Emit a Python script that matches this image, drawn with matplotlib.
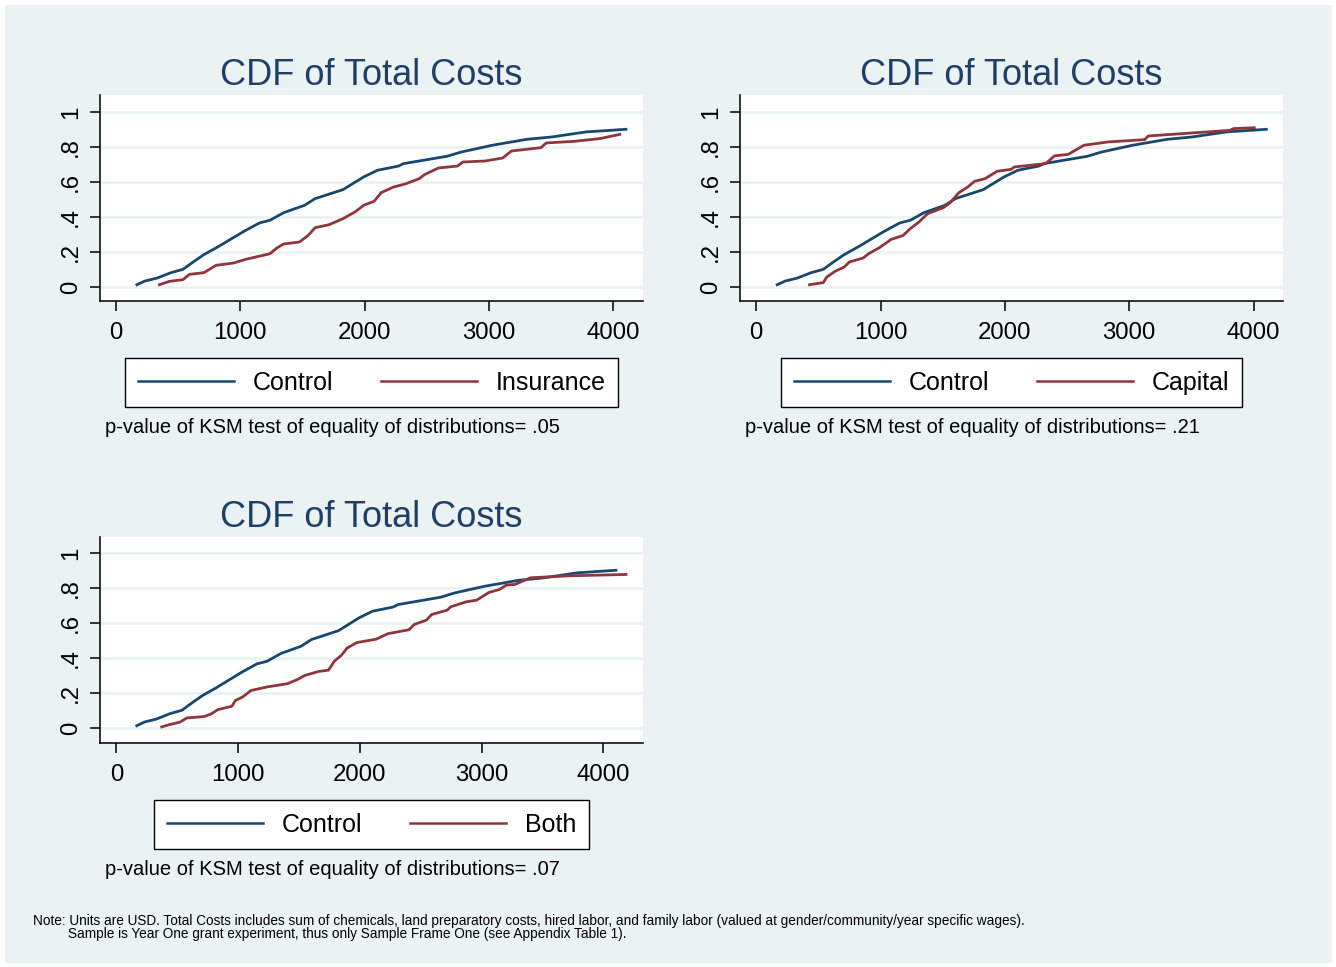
import matplotlib
matplotlib.use("Agg")
import matplotlib.pyplot as plt
from matplotlib.patches import Rectangle

plt.rcParams['font.family'] = ['Liberation Sans', 'DejaVu Sans']

# ---- data ----
control_x = [168, 232, 330, 442, 539, 609, 707, 819, 1029, 1154, 1238, 1350, 1518, 1602,
             1825, 1993, 2104, 2273, 2314, 2664, 2776, 3028, 3307, 3503, 3782, 4103]
control_y = [0.013, 0.034, 0.051, 0.082, 0.101, 0.137, 0.185, 0.229, 0.318, 0.366, 0.381,
             0.425, 0.467, 0.505, 0.556, 0.629, 0.667, 0.691, 0.705, 0.747, 0.771, 0.810,
             0.844, 0.857, 0.886, 0.901]

insurance_x = [349, 428, 539, 590, 707, 805, 945, 1043, 1238, 1294, 1350, 1476, 1546, 1602,
               1714, 1825, 1923, 1993, 2077, 2133, 2232, 2328, 2440, 2482, 2594, 2748, 2790,
               2971, 3111, 3181, 3419, 3461, 3684, 3894, 4053]
insurance_y = [0.013, 0.032, 0.042, 0.072, 0.082, 0.124, 0.137, 0.158, 0.190, 0.223, 0.246,
               0.257, 0.295, 0.339, 0.356, 0.390, 0.429, 0.467, 0.490, 0.539, 0.571, 0.589,
               0.619, 0.642, 0.680, 0.691, 0.714, 0.720, 0.737, 0.777, 0.796, 0.823, 0.832,
               0.848, 0.872]

capital_x = [428, 539, 567, 637, 707, 749, 861, 903, 987, 1085, 1182, 1238, 1308, 1378, 1504,
             1560, 1630, 1700, 1756, 1840, 1937, 2049, 2077, 2328, 2398, 2510, 2636, 2832,
             3125, 3153, 3810, 3838, 4006]
capital_y = [0.013, 0.025, 0.057, 0.091, 0.114, 0.143, 0.166, 0.190, 0.223, 0.272, 0.295,
             0.333, 0.371, 0.419, 0.453, 0.482, 0.539, 0.571, 0.604, 0.619, 0.661, 0.672,
             0.686, 0.705, 0.749, 0.758, 0.810, 0.829, 0.842, 0.863, 0.895, 0.905, 0.910]

both_x = [373, 436, 522, 579, 721, 778, 835, 949, 978, 1035, 1106, 1235, 1406, 1491, 1548,
          1662, 1742, 1790, 1848, 1896, 1976, 2133, 2232, 2403, 2446, 2546, 2589, 2717, 2746,
          2874, 2959, 3059, 3145, 3202, 3273, 3401, 3714, 4185]
both_y = [0.006, 0.019, 0.033, 0.057, 0.065, 0.080, 0.105, 0.124, 0.157, 0.176, 0.214, 0.234,
          0.253, 0.278, 0.300, 0.323, 0.330, 0.381, 0.415, 0.457, 0.488, 0.507, 0.539, 0.561,
          0.591, 0.616, 0.648, 0.673, 0.692, 0.721, 0.730, 0.774, 0.791, 0.816, 0.820, 0.858,
          0.869, 0.877]

x_ticks = [0, 1000, 2000, 3000, 4000]
y_ticks = [0, 0.2, 0.4, 0.6, 0.8, 1.0]
y_tick_labels = ["0", ".2", ".4", ".6", ".8", "1"]

title = "CDF of Total Costs"
panels = [
    ("Insurance", insurance_x, insurance_y, ".05"),
    ("Capital", capital_x, capital_y, ".21"),
    ("Both", both_x, both_y, ".07"),
]
note_line1 = ("Note: Units are USD. Total Costs includes sum of chemicals, land preparatory costs, hired labor, "
              "and family labor (valued at gender/community/year specific wages).")
note_line2 = "Sample is Year One grant experiment, thus only Sample Frame One (see Appendix Table 1)."

# ---- styling ----
W, H = 1336, 967
BG = "#eaf2f3"
NAVY = "#1a476f"
MAROON = "#90353b"
TITLE_C = "#1e3f66"

fig = plt.figure(figsize=(W / 100, H / 100), dpi=100, facecolor="white")
fig.patches.append(Rectangle((5 / W, 4 / H), (W - 9) / W, (H - 9) / H,
                             transform=fig.transFigure, facecolor=BG, edgecolor="none", zorder=-10))

# axes boxes in pixels (left, top, right, bottom), xlim, ylim
boxes = [
    ((100, 95, 643, 301), (-129, 4240), (-0.080, 1.097)),
    ((740, 95, 1283, 301), (-131, 4237), (-0.080, 1.097)),
    ((100, 537, 643, 743), (-134, 4325), (-0.086, 1.091)),
]

for (name, xs, ys, pval), ((l, t, r, b), xl, yl) in zip(panels, boxes):
    ax = fig.add_axes([l / W, 1 - b / H, (r - l) / W, (b - t) / H])
    ax.set_facecolor("white")
    ax.set_xlim(*xl)
    ax.set_ylim(*yl)
    for yv in y_ticks:
        ax.axhline(yv, color=BG, lw=2.0, zorder=1)
    ax.plot(control_x, control_y, color=NAVY, lw=2.0, zorder=3, label="Control")
    ax.plot(xs, ys, color=MAROON, lw=2.0, zorder=3, label=name)
    for s in ["top", "right"]:
        ax.spines[s].set_visible(False)
    for s in ["left", "bottom"]:
        ax.spines[s].set_linewidth(1.2)
        ax.spines[s].set_color("#111111")
    ax.set_xticks(x_ticks)
    ax.set_xticklabels([str(v) for v in x_ticks])
    ax.set_yticks(y_ticks)
    ax.set_yticklabels(y_tick_labels, rotation=90, va="center")
    ax.tick_params(axis="both", length=7, width=1.2, color="#111111", labelsize=17.3, pad=8)
    ax.tick_params(axis="y", pad=6)
    ax.set_title(title, fontsize=26, color=TITLE_C, pad=7)
    leg = ax.legend(loc="center", bbox_to_anchor=(0.5, -0.396), bbox_transform=ax.transAxes,
                    ncol=2, fontsize=18, frameon=True, fancybox=False, handlelength=3.85,
                    handletextpad=0.75, columnspacing=1.9, borderpad=0.5, edgecolor="black",
                    framealpha=1.0)
    leg.get_frame().set_linewidth(1.0)
    for ln in leg.get_lines():
        ln.set_linewidth(1.8)
    ax.text(0.0092, -0.612, "p-value of KSM test of equality of distributions= " + pval,
            transform=ax.transAxes, fontsize=14.5, ha="left", va="center", color="black")

fig.text(33 / W, 1 - 921 / H, note_line1, fontsize=9.8, ha="left", va="center")
fig.text(68 / W, 1 - 934 / H, note_line2, fontsize=9.8, ha="left", va="center")

fig.savefig("out.png", dpi=100, facecolor="white")
